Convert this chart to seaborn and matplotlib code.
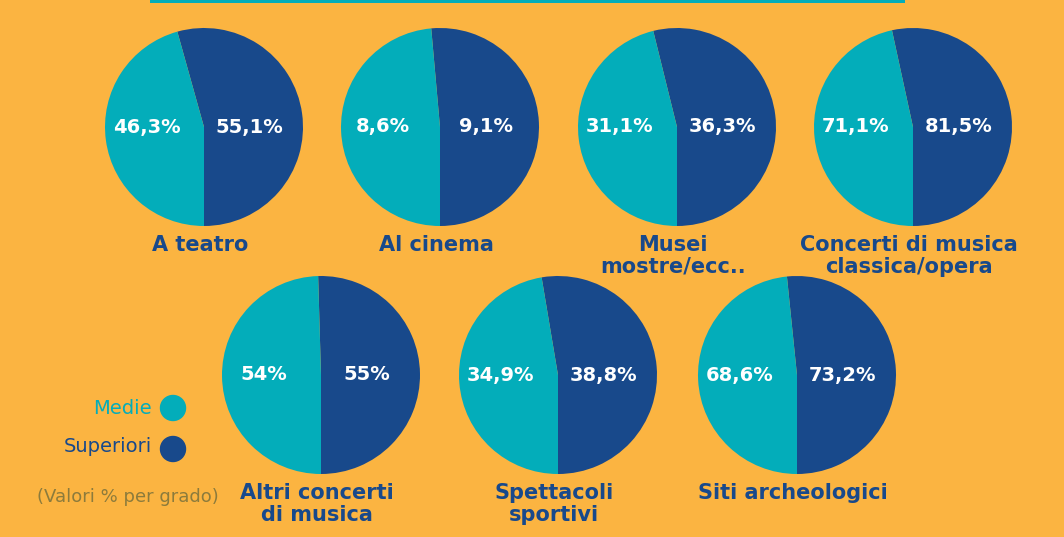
import numpy as np
import matplotlib.pyplot as plt
import seaborn as sns
from matplotlib.patches import Rectangle, Circle

# Data (Valori % per grado)
categorie = ["A teatro", "Al cinema", "Musei\nmostre/ecc..", "Concerti di musica\nclassica/opera",
             "Altri concerti\ndi musica", "Spettacoli\nsportivi", "Siti archeologici"]
medie = [46.3, 8.6, 31.1, 71.1, 54, 34.9, 68.6]
superiori = [55.1, 9.1, 36.3, 81.5, 55, 38.8, 73.2]

ARANCIO = "#FBB441"
TEAL = "#03ADBA"
BLU = "#18498B"
GRIGIO = "#8C7B3C"

sns.set_theme(style="white", rc={"figure.facecolor": ARANCIO, "axes.facecolor": ARANCIO})
plt.rcParams["font.family"] = ["DejaVu Sans"]

W, H = 1064, 537
fig = plt.figure(figsize=(W / 100, H / 100), dpi=100)
fig.patch.set_facecolor(ARANCIO)

# teal title box bottom edge
fig.patches.append(Rectangle((150 / W, 1 - 3 / H), 755 / W, 3 / H, transform=fig.transFigure,
                             facecolor=TEAL, edgecolor="none"))

# pie layout in pixels
centri = [(204, 127), (440, 127), (677, 127), (913, 127),
          (321, 375), (558, 375), (797, 375)]
R = 99

def fmt(v):
    return f"{v:g}".replace(".", ",") + "%"

for i, (cx, cy) in enumerate(centri):
    ax = fig.add_axes([(cx - R) / W, (H - cy - R) / H, 2 * R / W, 2 * R / H])
    ax.pie([superiori[i], medie[i]], colors=[BLU, TEAL], startangle=-90, counterclock=True,
           radius=1, wedgeprops=dict(linewidth=0))
    ax.set_xlim(-1, 1)
    ax.set_ylim(-1, 1)
    ax.set_aspect("equal")
    ax.axis("off")
    ax.text(-0.58, 0, fmt(medie[i]), color="white", fontsize=14, fontweight="bold",
            ha="center", va="center")
    ax.text(0.46, 0, fmt(superiori[i]), color="white", fontsize=14, fontweight="bold",
            ha="center", va="center")
    # category label under the pie
    fig.text((cx - 4) / W, 1 - (cy + R + 9) / H, categorie[i], color=BLU, fontsize=15,
             fontweight="bold", ha="center", va="top", linespacing=1.12)

# legend
fig.text(152 / W, 1 - 408 / H, "Medie", color=TEAL, fontsize=14, ha="right", va="center")
fig.text(152 / W, 1 - 447 / H, "Superiori", color=BLU, fontsize=14, ha="right", va="center")
lax = fig.add_axes([0, 0, 1, 1], facecolor="none")
lax.set_xlim(0, W)
lax.set_ylim(H, 0)
lax.axis("off")
lax.add_patch(Circle((173, 408), 12.5, color=TEAL))
lax.add_patch(Circle((173, 449), 12.5, color=BLU))
fig.text(128 / W, 1 - 497 / H, "(Valori % per grado)", color=GRIGIO, fontsize=13,
         ha="center", va="center")

fig.savefig("out.png", dpi=100, facecolor=ARANCIO)
